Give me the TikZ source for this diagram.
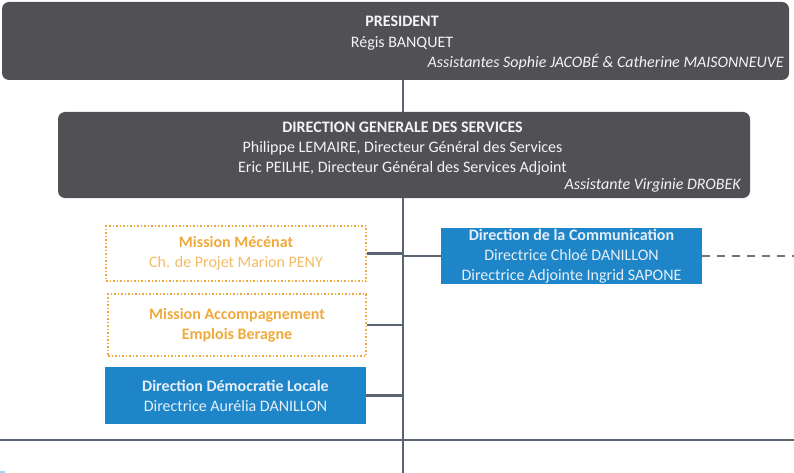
\documentclass[tikz,border=0pt]{standalone}
\usepackage{fontspec}
\setmainfont{Carlito}
\usetikzlibrary{backgrounds}
\definecolor{boxgray}{HTML}{505055}
\definecolor{boxblue}{HTML}{1E86C8}
\definecolor{orng}{HTML}{EFA93C}
\definecolor{orngl}{HTML}{F3BB66}
\definecolor{linec}{HTML}{5B6471}
\definecolor{dashc}{HTML}{6E7580}
\definecolor{lighttxt}{HTML}{F4F4F4}
\definecolor{bluetxt}{HTML}{E6EEF7}
\definecolor{cutblue}{HTML}{A9D3EC}
\begin{document}
\begin{tikzpicture}[x=1pt,y=-1pt,
  font=\fontsize{16}{19.5}\selectfont,
  graybox/.style={fill=boxgray, rounded corners=7pt, inner sep=0pt},
  bluebox/.style={fill=boxblue, text=bluetxt, inner sep=0pt, align=center, font=\fontsize{16}{20}\selectfont},
  orbox/.style={draw=orng, line width=1.5pt, dash pattern=on 1.5pt off 2pt, text=orng, inner sep=0pt, align=center, font=\fontsize{16}{19.5}\selectfont},
  graytxt/.style={text=lighttxt, align=center, inner sep=0pt},
  conn/.style={draw=linec, line width=2.4pt},
  dconn/.style={draw=dashc, line width=2pt, dash pattern=on 8pt off 7pt}
]
\useasboundingbox (0,0) rectangle (794,473);

% boxes
\node[graybox, minimum width=787pt, minimum height=78pt] (pres) at (395.5,41) {};
\node[graytxt, font=\fontsize{16}{20.5}\selectfont] (prest) at (402,33) {\textbf{PRESIDENT}\\Régis BANQUET};
\node[graytxt, anchor=east] (presa) at (784,62) {\itshape Assistantes Sophie JACOBÉ \& Catherine MAISONNEUVE};

\node[graybox, minimum width=692pt, minimum height=86pt] (dgs) at (404,155) {};
\node[graytxt, font=\fontsize{16}{20}\selectfont] (dgst) at (402.5,148.5) {\textbf{DIRECTION GENERALE DES SERVICES}\\Philippe LEMAIRE, Directeur Général des Services\\Eric PEILHE, Directeur Général des Services Adjoint};
\node[graytxt, anchor=east] (dgsa) at (741,185) {\itshape Assistante Virginie DROBEK};

\node[orbox, minimum width=260pt, minimum height=55pt] (mec) at (236,253.5) {\textbf{Mission Mécénat}\\\textcolor{orngl}{Ch. de Projet Marion PENY}};
\node[orbox, minimum width=258pt, minimum height=62pt] (acc) at (237,325) {\textbf{Mission Accompagnement}\\\textbf{Emplois Beragne}};
\node[bluebox, minimum width=261pt, minimum height=57pt] (dem) at (235.5,395.5) {\textbf{Direction Démocratie Locale}\\Directrice Aurélia DANILLON};
\node[bluebox, minimum width=261pt, minimum height=56pt] (com) at (571.5,256) {\textbf{Direction de la Communication}\\Directrice Chloé DANILLON\\Directrice Adjointe Ingrid SAPONE};

\fill[cutblue] (0,470.5) rectangle (5,473);

\coordinate (vt) at (403,80);
\coordinate (vb) at (403,473);
\coordinate (hl) at (0,440);
\coordinate (hr) at (794,440);
\coordinate (dashend) at (794,256);

\begin{scope}[on background layer]
  \draw[conn] (pres.south -| vt) -- (vb);
  \draw[conn] (hl) -- (hr);
  \draw[conn] (mec.east) -- (mec.east -| vt);
  \draw[conn] (acc.east) -- (acc.east -| vt);
  \draw[conn] (dem.east) -- (dem.east -| vt);
  \draw[conn] (com.west) -- (com.west -| vt);
  \draw[dconn] (com.east) -- (dashend);
\end{scope}
\end{tikzpicture}
\end{document}
